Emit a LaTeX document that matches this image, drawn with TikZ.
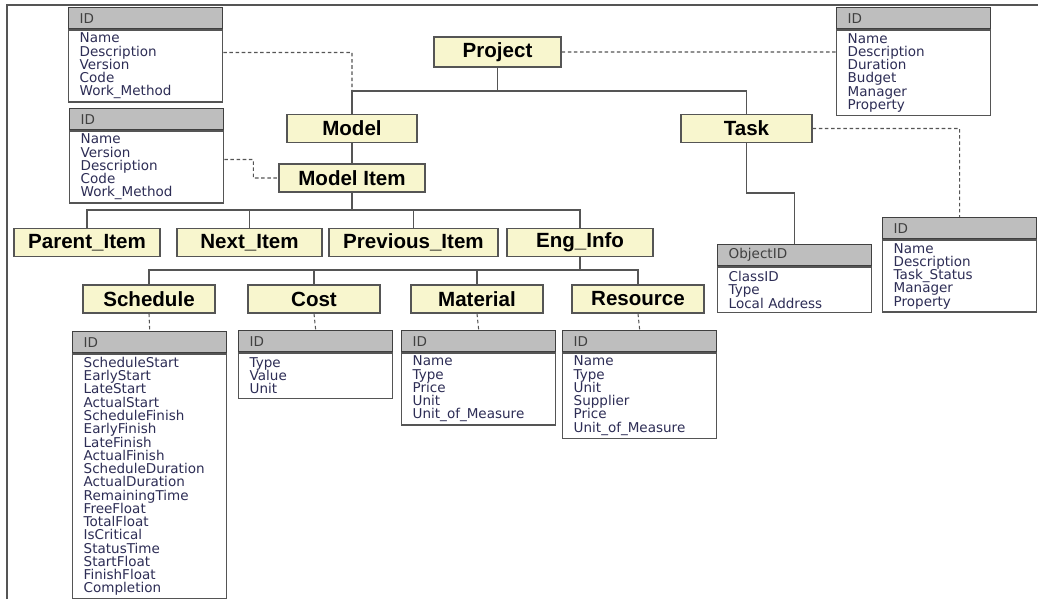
\documentclass[tikz,border=0pt]{standalone}
\usepackage{fontspec}
\setmainfont{DejaVu Sans}
\newfontfamily\cajafont{Liberation Sans}
\usetikzlibrary{positioning}
\definecolor{amarillo}{RGB}{248,246,206}
\definecolor{cabecera}{RGB}{190,190,190}
\definecolor{linea}{RGB}{85,85,85}
\definecolor{texto}{RGB}{45,45,85}
\tikzset{
	x=0.02cm, y=-0.02cm, % Un pixel de la imagen
	entidad/.style={draw=linea, fill=amarillo, line width=0.7pt, inner sep=0pt, minimum height=0.56cm, font=\cajafont\fontsize{11.7}{12}\selectfont\bfseries}, % Cajas amarillas
	cabeza/.style={draw=black!75, fill=cabecera, line width=0.8pt, anchor=north west, text width=2.64cm, inner xsep=0.22cm, inner ysep=0pt, minimum height=0.42cm, align=left, text=black!75, font=\fontsize{7.7}{7.55}\selectfont}, % Cabecera de tabla
	cuerpo/.style={draw=linea, fill=white, line width=0.7pt, text width=2.64cm, inner xsep=0.22cm, inner ysep=0pt, minimum height=#1*0.266cm+0.11cm, align=left, text=texto, font=\fontsize{7.7}{7.55}\selectfont}, % Campos de la tabla
	conector/.style={draw=linea, line width=0.7pt}, % Lineas del arbol
	punteado/.style={draw=linea, line width=0.6pt, dash pattern=on 2pt off 1.5pt} % Enlaces a las tablas
}

\begin{document}
\begin{tikzpicture}
	\useasboundingbox (0,0) rectangle (1038,599);
	\draw[linea, line width=0.9pt] (7,599) -- (7,5) -- (1038,5);

	% cajas
	\node[entidad, minimum width=2.54cm, minimum height=0.6cm] (prj) at (497.5,52) {Project};
	\node[entidad, minimum width=2.6cm] (mod) at (352,128.5) {Model};
	\node[entidad, minimum width=2.62cm] (tsk) at (746.5,128.5) {Task};
	\node[entidad, minimum width=2.92cm] (mi) at (352,178) {Model Item};
	\node[entidad, minimum width=2.92cm] (par) at (87,242.5) {Parent\_Item};
	\node[entidad, minimum width=2.9cm] (nxt) at (249.5,242.5) {Next\_Item};
	\node[entidad, minimum width=3.38cm] (prv) at (413.5,242.5) {Previous\_Item};
	\node[entidad, minimum width=2.92cm] (eng) at (580,242.5) {Eng\_Info};
	\node[entidad, minimum width=2.64cm] (sch) at (149,299) {Schedule};
	\node[entidad, minimum width=2.64cm] (cst) at (314,299) {Cost};
	\node[entidad, minimum width=2.64cm] (mat) at (477,299) {Material};
	\node[entidad, minimum width=2.64cm] (res) at (638,299) {Resource};

	% tablas
	\node[cabeza] (tmh) at (68,7) {ID};
	\node[cuerpo=5, below=0pt of tmh] (tmb) {Name\\Description\\Version\\Code\\Work\_Method};
	\node[cabeza] (tih) at (69,108) {ID};
	\node[cuerpo=5, below=0pt of tih] (tib) {Name\\Version\\Description\\Code\\Work\_Method};
	\node[cabeza] (tph) at (836,7) {ID};
	\node[cuerpo=6, below=0pt of tph] (tpb) {Name\\Description\\Duration\\Budget\\Manager\\Property};
	\node[cabeza] (toh) at (717,244) {ObjectID};
	\node[cuerpo=3, below=0pt of toh] (tob) {ClassID\\Type\\Local Address};
	\node[cabeza] (tth) at (882,217) {ID};
	\node[cuerpo=5, below=0pt of tth] (ttb) {Name\\Description\\Task\_Status\\Manager\\Property};
	\node[cabeza] (tsh) at (72,331) {ID};
	\node[cuerpo=18, below=0pt of tsh] (tsb) {ScheduleStart\\EarlyStart\\LateStart\\ActualStart\\ScheduleFinish\\EarlyFinish\\LateFinish\\ActualFinish\\ScheduleDuration\\ActualDuration\\RemainingTime\\FreeFloat\\TotalFloat\\IsCritical\\StatusTime\\StartFloat\\FinishFloat\\Completion};
	\node[cabeza] (tch) at (238,330) {ID};
	\node[cuerpo=3, below=0pt of tch] (tcb) {Type\\Value\\Unit};
	\node[cabeza] (tah) at (401,330) {ID};
	\node[cuerpo=5, below=0pt of tah] (tab) {Name\\Type\\Price\\Unit\\Unit\_of\_Measure};
	\node[cabeza] (trh) at (562,330) {ID};
	\node[cuerpo=6, below=0pt of trh] (trb) {Name\\Type\\Unit\\Supplier\\Price\\Unit\_of\_Measure};

	\coordinate (rama1) at (352,91);
	\coordinate (rama2) at (352,210);
	\coordinate (rama3) at (580,270);
	\coordinate (rama4) at (746.5,193);

	\draw[conector] (prj.south) |- (rama1) -- (mod.north)
		(rama1) -| (tsk.north)
		(mod) -- (mi)
		(mi.south) -- (rama2)
		(par.north) -- (par.north |- rama2) -- (eng.north |- rama2) -- (eng.north)
		(nxt.north) -- (nxt.north |- rama2)
		(prv.north) -- (prv.north |- rama2)
		(eng.south) -- (rama3)
		(sch.north) -- (sch.north |- rama3) -- (res.north |- rama3) -- (res.north)
		(cst.north) -- (cst.north |- rama3)
		(mat.north) -- (mat.north |- rama3)
		(tsk.south) -- (rama4) -| (toh.north)
		;
	\draw[punteado] ([yshift=0.27cm]tmb.east) -| (mod.north)
		([yshift=0.15cm]tib.east) -- ++(29,0) |- (mi.west)
		(prj.east) -- (prj.east -| tpb.west)
		(tsk.east) -| (tth.north)
		(sch.south) -- (tsh.north)
		(cst.south) -- (tch.north)
		(mat.south) -- (tah.north)
		(res.south) -- (trh.north)
		;
\end{tikzpicture}
\end{document}
